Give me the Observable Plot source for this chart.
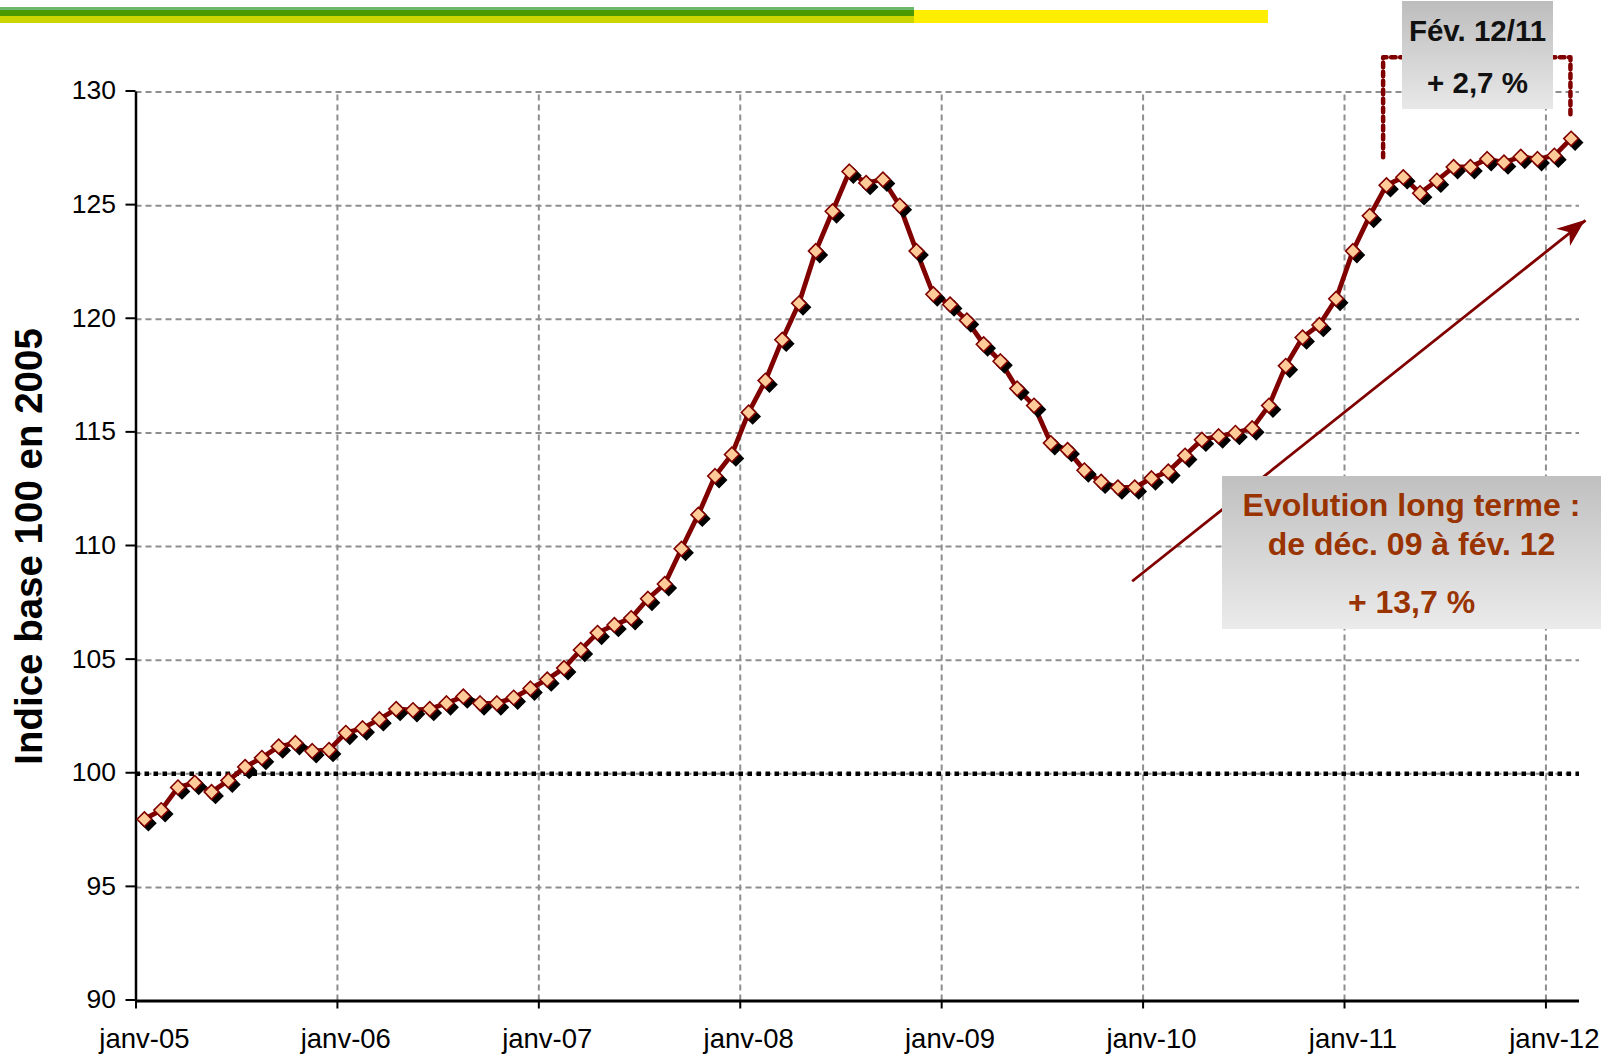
<!DOCTYPE html>
<html><head><meta charset="utf-8">
<script src="https://cdn.jsdelivr.net/npm/d3@7"></script>
<script src="https://cdn.jsdelivr.net/npm/@observablehq/plot@0.6"></script>
<style>
html,body{margin:0;padding:0;background:#fff;}
#wrap{position:relative;width:1609px;height:1058px;overflow:hidden;font-family:"Liberation Sans",Arial,sans-serif;}
#chart{position:absolute;left:0;top:0;}
.bar{position:absolute;}
.box{position:absolute;font-weight:bold;}
.box div{position:absolute;left:0;right:0;text-align:center;white-space:nowrap;}
</style></head><body>
<div id="wrap">
  <div id="chart"></div>
  <div class="bar" style="left:0;top:7px;width:914px;height:2.5px;background:#6cb86c"></div>
  <div class="bar" style="left:0;top:9.5px;width:914px;height:6.5px;background:#4c9a00"></div>
  <div class="bar" style="left:0;top:16px;width:914px;height:7px;background:#cdd500"></div>
  <div class="bar" style="left:914px;top:10px;width:354px;height:13px;background:#ffee00"></div>
  <div class="box" id="febBox" style="left:1402px;top:1px;width:151px;height:108px;background:linear-gradient(#bdbdbd,#e8e8e8);color:#111;font-size:29.5px;line-height:29.5px;">
    <div style="top:15px">Fév. 12/11</div>
    <div style="top:67px">+ 2,7 %</div>
  </div>
  <div class="box" id="evoBox" style="left:1222px;top:476px;width:379px;height:153px;background:linear-gradient(#c0c0c0,#ebebeb);color:#993300;font-size:32px;line-height:32px;">
    <div style="top:13px">Evolution long terme :</div>
    <div style="top:52px">de déc. 09 à fév. 12</div>
    <div style="top:110px">+ 13,7 %</div>
  </div>
</div>
<script>
// Monthly index values (base 100 in 2005), janv-05 .. fév-12
const v2005 = [98.0, 98.4, 99.4, 99.6, 99.2, 99.7, 100.3, 100.7, 101.2, 101.35, 101.0, 101.05];
const v2006 = [101.8, 102.0, 102.4, 102.85, 102.8, 102.85, 103.1, 103.4, 103.1, 103.1, 103.35, 103.75];
const v2007 = [104.15, 104.65, 105.45, 106.2, 106.55, 106.85, 107.7, 108.35, 109.9, 111.4, 113.1, 114.05];
const v2008 = [115.9, 117.3, 119.1, 120.7, 123.0, 124.75, 126.5, 126.0, 126.15, 125.0, 123.0, 121.1];
const v2009 = [120.65, 119.95, 118.9, 118.15, 116.95, 116.2, 114.55, 114.25, 113.35, 112.85, 112.6, 112.6];
const v2010 = [113.0, 113.3, 114.0, 114.7, 114.85, 115.0, 115.2, 116.2, 117.95, 119.2, 119.75, 120.9];
const v2011 = [123.0, 124.55, 125.9, 126.25, 125.55, 126.1, 126.7, 126.7, 127.05, 126.9, 127.15, 127.05];
const v2012 = [127.2, 127.95];

const tickLabels = ["janv-05", "janv-06", "janv-07", "janv-08", "janv-09", "janv-10", "janv-11", "janv-12"];
const yTicks = [90, 95, 100, 105, 110, 115, 120, 125, 130];
const yTitle = "Indice base 100 en 2005";

// Annotation positions (in data units: month index, index value)
const arrowFrom = [59.35, 108.47];
const arrowTo = [86.36, 124.35];
const bracketLeft = [[74.3, 127.13], [74.3, 131.53], [75.6, 131.53]];
const bracketRight = [[84.3, 131.53], [85.46, 131.53], [85.46, 128.97]];

const values = [].concat(v2005, v2006, v2007, v2008, v2009, v2010, v2011, v2012);
const data = values.map((v, i) => ({i, v}));
const nMonths = values.length; // 86
const yearTicks = tickLabels.map((_, k) => k * 12);
const labelPos = tickLabels.map((_, k) => k * 12 + 0.5);
const gridY = yTicks.filter(t => t > 90);
const gridX = yearTicks.filter(t => t > 0);

const DARK = "#800000";
const GRID = "#8e8e8e";

const chart = Plot.plot({
  width: 1609,
  height: 1058,
  marginLeft: 135.5,
  marginRight: 30,
  marginTop: 91.5,
  marginBottom: 57.5,
  style: {fontFamily: "'Liberation Sans', Arial, sans-serif", fontSize: "26px", background: "transparent", overflow: "visible"},
  x: {type: "linear", domain: [0, nMonths]},
  y: {domain: [90, 130]},
  marks: [
    Plot.ruleY(gridY, {stroke: GRID, strokeWidth: 2, strokeDasharray: "6,4"}),
    Plot.ruleX(gridX, {y1: 90, y2: 130, stroke: GRID, strokeWidth: 2, strokeDasharray: "6,4"}),
    Plot.ruleY([100], {stroke: "black", strokeWidth: 4.5, strokeDasharray: "4.5,4.5"}),
    Plot.axisY({ticks: yTicks, tickSize: 10, tickPadding: 10, strokeWidth: 2, fontSize: 26.5, dy: -1, label: null}),
    Plot.axisX({ticks: yearTicks, tickSize: 8, tickFormat: () => "", strokeWidth: 2, label: null}),
    Plot.axisX({ticks: labelPos, tickSize: 0, tickPadding: 27, fontSize: 27.5, tickFormat: (d) => tickLabels[Math.round((d - 0.5) / 12)], label: null}),
    Plot.ruleX([0], {y1: 90, y2: 130, stroke: "black", strokeWidth: 2.5}),
    Plot.ruleY([90], {stroke: "black", strokeWidth: 3}),
    Plot.text([yTitle], {text: d => d, frameAnchor: "left", textAnchor: "middle", dx: -106, rotate: -90, fontSize: 38.5, fontWeight: "bold", fill: "black"}),
    Plot.link([{a: arrowFrom, b: arrowTo}], {x1: d => d.a[0], y1: d => d.a[1], x2: d => d.b[0], y2: d => d.b[1], stroke: DARK, strokeWidth: 2.8}),
    Plot.line(data, {x: d => d.i + 0.5, y: "v", stroke: DARK, strokeWidth: 4.8, strokeLinejoin: "round"}),
    Plot.dot(data, {x: d => d.i + 0.5, y: "v", symbol: "diamond2", r: 6.6, fill: "black", stroke: "black", strokeWidth: 1.5, dx: 4, dy: 4}),
    Plot.dot(data, {x: d => d.i + 0.5, y: "v", symbol: "diamond2", r: 6.6, fill: "#ffcc99", stroke: DARK, strokeWidth: 1.6}),
    Plot.line(bracketLeft, {x: d => d[0], y: d => d[1], stroke: DARK, strokeWidth: 4.5, strokeDasharray: "4.5,4.5"}),
    Plot.line(bracketRight, {x: d => d[0], y: d => d[1], stroke: DARK, strokeWidth: 4.5, strokeDasharray: "4.5,4.5"})
  ]
});

// filled arrowhead at the end of the long-term arrow, placed through the chart's scales
{
  const sx = chart.scale("x"), sy = chart.scale("y");
  const x0 = sx.apply(arrowFrom[0]), y0 = sy.apply(arrowFrom[1]);
  const x1 = sx.apply(arrowTo[0]), y1 = sy.apply(arrowTo[1]);
  const ang = Math.atan2(y1 - y0, x1 - x0);
  const L = 28, W = 11, N = 20;
  const c = Math.cos(ang), s = Math.sin(ang);
  const pt = (a, b) => [x1 - a * c + b * s, y1 - a * s - b * c];
  const p1 = pt(L, W), p2 = pt(N, 0), p3 = pt(L, -W);
  const path = document.createElementNS("http://www.w3.org/2000/svg", "path");
  path.setAttribute("d", `M${x1},${y1}L${p1[0]},${p1[1]}L${p2[0]},${p2[1]}L${p3[0]},${p3[1]}Z`);
  path.setAttribute("fill", DARK);
  chart.appendChild(path);
}

document.getElementById("chart").appendChild(chart);
</script>
</body></html>
